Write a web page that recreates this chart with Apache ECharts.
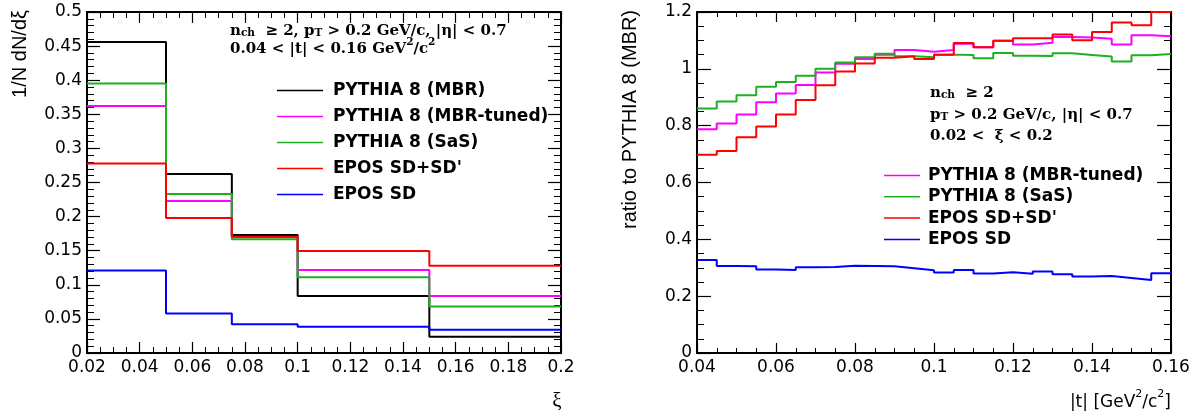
<!DOCTYPE html>
<html>
<head>
<meta charset="utf-8">
<script src="https://cdn.jsdelivr.net/npm/echarts@6/dist/echarts.min.js"></script>
<style>
html,body{margin:0;padding:0;background:#fff;}
#chart{width:1198px;height:415px;}
</style>
</head>
<body>
<div id="chart"></div>
<script>
// ---------- Left panel: xi distribution ----------
const xiEdges = [0.02, 0.05, 0.075, 0.1, 0.15, 0.2];
const xiMBR = [0.456, 0.2625, 0.173, 0.0836, 0.024];
const xiMBRtuned = [0.362, 0.223, 0.1696, 0.1217, 0.0836];
const xiSaS = [0.395, 0.233, 0.1667, 0.111, 0.068];
const xiEposSDSDp = [0.278, 0.198, 0.1705, 0.1496, 0.128];
const xiEposSD = [0.121, 0.058, 0.042, 0.0386, 0.034];

// ---------- Right panel: ratio vs |t| ----------
const tEdges = [0.04, 0.045, 0.05, 0.055, 0.06, 0.065, 0.07, 0.075, 0.08, 0.085,
  0.09, 0.095, 0.1, 0.105, 0.11, 0.115, 0.12, 0.125, 0.13, 0.135,
  0.14, 0.145, 0.15, 0.155, 0.16];
const ratioMBRtuned = [0.787, 0.808, 0.839, 0.882, 0.913, 0.943, 0.987, 1.018, 1.035, 1.050,
  1.066, 1.060, 1.066, 1.088, 1.076, 1.099, 1.086, 1.092, 1.112, 1.110,
  1.106, 1.086, 1.118, 1.115];
const ratioSaS = [0.860, 0.885, 0.907, 0.937, 0.954, 0.976, 1.000, 1.022, 1.041, 1.053,
  1.044, 1.041, 1.050, 1.049, 1.037, 1.056, 1.046, 1.045, 1.055, 1.049,
  1.043, 1.026, 1.048, 1.052];
const ratioEposSDSDp = [0.698, 0.711, 0.759, 0.797, 0.839, 0.890, 0.942, 0.991, 1.019, 1.039,
  1.044, 1.035, 1.050, 1.091, 1.076, 1.099, 1.108, 1.108, 1.121, 1.101,
  1.130, 1.163, 1.153, 1.2];
const ratioEposSD = [0.327, 0.306, 0.305, 0.294, 0.292, 0.302, 0.303, 0.307, 0.306, 0.305,
  0.298, 0.291, 0.283, 0.292, 0.280, 0.284, 0.279, 0.287, 0.277, 0.269,
  0.271, 0.264, 0.257, 0.281];

const C = {
  mbr: '#000000', tuned: '#ff00ff', sas: '#1fb01f', eposB: '#ff0000', epos: '#0000ff'
};

function histPoints(edges, vals) {
  const pts = [];
  for (let i = 0; i < edges.length; i++) {
    pts.push([edges[i], vals[Math.min(i, vals.length - 1)]]);
  }
  return pts;
}

const SANS = 'DejaVu Sans';
const fmt = v => String(+v.toFixed(3));

function axisX(gridIndex, min, max, interval, majorLen, minorLen, showLabel, pos) {
  return {
    type: 'value', gridIndex, min, max, interval, position: pos,
    axisLine: {show: true, onZero: false, lineStyle: {color: '#000', width: 2}},
    axisTick: {show: true, inside: true, length: majorLen, lineStyle: {color: '#000', width: 1.2}},
    minorTick: {show: true, splitNumber: 4, length: minorLen, lineStyle: {color: '#000', width: 1}},
    splitLine: {show: false},
    axisLabel: {show: showLabel, margin: 6, color: '#000', fontFamily: SANS, fontSize: 17, formatter: fmt,
      showMinLabel: true, showMaxLabel: true, hideOverlap: false}
  };
}
function axisY(gridIndex, min, max, interval, split, majorLen, minorLen, showLabel, pos) {
  return {
    type: 'value', gridIndex, min, max, interval, position: pos,
    axisLine: {show: true, onZero: false, lineStyle: {color: '#000', width: 2}},
    axisTick: {show: true, inside: true, length: majorLen, lineStyle: {color: '#000', width: 1.2}},
    minorTick: {show: true, splitNumber: split, length: minorLen, lineStyle: {color: '#000', width: 1}},
    splitLine: {show: false},
    axisLabel: {show: showLabel, margin: 5, color: '#000', fontFamily: SANS, fontSize: 17, formatter: fmt,
      showMinLabel: true, showMaxLabel: true, hideOverlap: false}
  };
}

function histSeries(name, xi, yi, edges, vals, color, z) {
  return {
    name, type: 'line', xAxisIndex: xi, yAxisIndex: yi, step: 'end',
    data: histPoints(edges, vals), symbol: 'none', showSymbol: false,
    lineStyle: {color, width: 2}, itemStyle: {color}, z, clip: true, animation: false
  };
}

const serifRich = {
  b: {fontFamily: 'DejaVu Serif', fontWeight: 'bold', fontSize: 15, lineHeight: 20, verticalAlign: 'bottom', color: '#000'},
  sub: {fontFamily: 'DejaVu Serif', fontWeight: 'bold', fontSize: 10.5, lineHeight: 10, verticalAlign: 'bottom', color: '#000'},
  sup: {fontFamily: 'DejaVu Serif', fontWeight: 'bold', fontSize: 10.5, lineHeight: 10, verticalAlign: 'top', color: '#000'}
};
const sansRich = {
  b: {fontFamily: SANS, fontSize: 17, lineHeight: 22, verticalAlign: 'bottom', color: '#000'},
  sup: {fontFamily: SANS, fontSize: 11, lineHeight: 11, verticalAlign: 'top', color: '#000'}
};

const legendText = {fontFamily: SANS, fontWeight: 'bold', fontSize: 17, color: '#000', padding: [0, 0, 0, 5]};

const option = {
  animation: false,
  backgroundColor: '#fff',
  grid: [
    {left: 87, top: 12, width: 474, height: 341},
    {left: 697, top: 12, width: 474, height: 341}
  ],
  xAxis: [
    axisX(0, 0.02, 0.2, 0.02, 11, 6, true, 'bottom'),
    axisX(0, 0.02, 0.2, 0.02, 11, 6, false, 'top'),
    axisX(1, 0.04, 0.16, 0.02, 10, 5, true, 'bottom'),
    axisX(1, 0.04, 0.16, 0.02, 10, 5, false, 'top')
  ],
  yAxis: [
    axisY(0, 0, 0.5, 0.05, 5, 13, 7, true, 'left'),
    axisY(0, 0, 0.5, 0.05, 5, 13, 7, false, 'right'),
    axisY(1, 0, 1.2, 0.2, 4, 14, 7, true, 'left'),
    axisY(1, 0, 1.2, 0.2, 4, 14, 7, false, 'right')
  ],
  legend: [
    {
      orient: 'vertical', left: 272, top: 77, itemWidth: 46, itemHeight: 1.5, itemGap: 9,
      icon: 'rect', textStyle: legendText, selectedMode: false,
      data: ['PYTHIA 8 (MBR)', 'PYTHIA 8 (MBR-tuned)', 'PYTHIA 8 (SaS)', "EPOS SD+SD'", 'EPOS SD']
    },
    {
      orient: 'vertical', left: 879, top: 162, itemWidth: 36, itemHeight: 1.5, itemGap: 4.3,
      icon: 'rect', textStyle: Object.assign({}, legendText, {padding: [0, 0, 0, 3]}), selectedMode: false,
      data: ['PYTHIA 8 (MBR-tuned)', 'PYTHIA 8 (SaS)', "EPOS SD+SD'", 'EPOS SD']
    }
  ],
  series: [
    histSeries('PYTHIA 8 (MBR)', 0, 0, xiEdges, xiMBR, C.mbr, 2),
    histSeries('PYTHIA 8 (MBR-tuned)', 0, 0, xiEdges, xiMBRtuned, C.tuned, 3),
    histSeries('PYTHIA 8 (SaS)', 0, 0, xiEdges, xiSaS, C.sas, 4),
    histSeries("EPOS SD+SD'", 0, 0, xiEdges, xiEposSDSDp, C.eposB, 5),
    histSeries('EPOS SD', 0, 0, xiEdges, xiEposSD, C.epos, 6),
    histSeries('PYTHIA 8 (MBR-tuned)', 2, 2, tEdges, ratioMBRtuned, C.tuned, 3),
    histSeries('PYTHIA 8 (SaS)', 2, 2, tEdges, ratioSaS, C.sas, 4),
    histSeries("EPOS SD+SD'", 2, 2, tEdges, ratioEposSDSDp, C.eposB, 5),
    histSeries('EPOS SD', 2, 2, tEdges, ratioEposSD, C.epos, 6)
  ],
  graphic: [
    {type: 'text', x: 20, y: 10, rotation: Math.PI / 2,
      style: {text: '1/N dN/dξ', fontFamily: 'Liberation Sans', fontSize: 20, fill: '#000', align: 'right', verticalAlign: 'middle'}},
    {type: 'text', x: 557, y: 401,
      style: {text: 'ξ', fontFamily: 'Liberation Serif', fontSize: 21, fill: '#000', align: 'center', verticalAlign: 'middle'}},
    {type: 'text', x: 630, y: 10, rotation: Math.PI / 2,
      style: {text: 'ratio to PYTHIA 8 (MBR)', fontFamily: 'Liberation Sans', fontSize: 20, fill: '#000', align: 'right', verticalAlign: 'middle'}},
    {type: 'text', x: 1171, y: 400,
      style: {text: '{b||t| [GeV}{sup|2}{b|/c}{sup|2}{b|]}', rich: sansRich, align: 'right', verticalAlign: 'middle'}},
    {type: 'text', x: 230, y: 29,
      style: {text: '{b|n}{sub|ch}{b|  ≥ 2, p}{sub|T}{b| > 0.2 GeV/c, |η| < 0.7}', rich: serifRich, align: 'left', verticalAlign: 'middle'}},
    {type: 'text', x: 230, y: 47,
      style: {text: '{b|0.04 < |t| < 0.16 GeV}{sup|2}{b|/c}{sup|2}', rich: serifRich, align: 'left', verticalAlign: 'middle'}},
    {type: 'text', x: 930, y: 91,
      style: {text: '{b|n}{sub|ch}{b|  ≥ 2}', rich: serifRich, align: 'left', verticalAlign: 'middle'}},
    {type: 'text', x: 930, y: 113,
      style: {text: '{b|p}{sub|T}{b| > 0.2 GeV/c, |η| < 0.7}', rich: serifRich, align: 'left', verticalAlign: 'middle'}},
    {type: 'text', x: 930, y: 134,
      style: {text: '{b|0.02 <  ξ < 0.2}', rich: serifRich, align: 'left', verticalAlign: 'middle'}}
  ]
};

const chart = echarts.init(document.getElementById('chart'), null, {renderer: 'canvas'});
chart.setOption(option);
</script>
</body>
</html>
